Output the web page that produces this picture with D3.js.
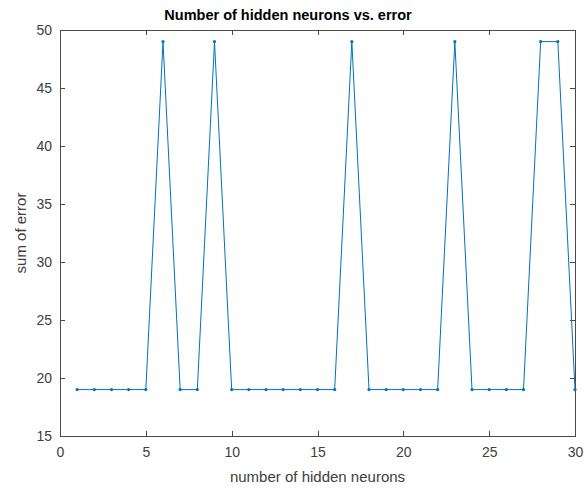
<!DOCTYPE html>
<html>
<head>
<meta charset="utf-8">
<script src="https://cdn.jsdelivr.net/npm/d3@7"></script>
<style>
  html, body { margin: 0; padding: 0; background: #fff; }
  svg { display: block; }
  text { font-family: "Liberation Sans", Arial, sans-serif; }
</style>
</head>
<body>
<svg id="chart" width="585" height="490"></svg>
<script>
// Hidden-neuron count and the resulting sum of error
const neurons = [1,2,3,4,5,6,7,8,9,10,11,12,13,14,15,16,17,18,19,20,21,22,23,24,25,26,27,28,29,30];
const errorSum = [19,19,19,19,19,49,19,19,49,19,19,19,19,19,19,19,49,19,19,19,19,19,49,19,19,19,19,49,49,19];
const xTicks = [0,5,10,15,20,25,30];
const yTicks = [15,20,25,30,35,40,45,50];

const svg = d3.select("#chart");
const m = { left: 60, right: 10, top: 30, bottom: 54 };
const W = 585, H = 490;
const x = d3.scaleLinear().domain([0, 30]).range([m.left, W - m.right]);
const y = d3.scaleLinear().domain([15, 50]).range([H - m.bottom, m.top]);
const axisColor = "#4a4a4a";
const tickLen = 5;

// box frame
svg.append("rect")
  .attr("x", x(0)).attr("y", y(50))
  .attr("width", x(30) - x(0)).attr("height", y(15) - y(50))
  .attr("fill", "none").attr("stroke", axisColor).attr("stroke-width", 1)
  .attr("shape-rendering", "crispEdges");

// inward ticks on all four sides
function styleAxis(g) {
  g.select(".domain").remove();
  g.selectAll(".tick line").attr("stroke", axisColor).attr("shape-rendering", "crispEdges");
  g.selectAll(".tick text").attr("fill", "#404040").attr("font-size", 14);
}
svg.append("g").attr("transform", `translate(0,${y(15)})`)
  .call(d3.axisBottom(x).tickValues(xTicks).tickSize(-tickLen).tickPadding(11).tickFormat(d3.format("d")))
  .call(styleAxis);
svg.append("g").attr("transform", `translate(0,${y(50)})`)
  .call(d3.axisTop(x).tickValues(xTicks).tickSize(-tickLen).tickFormat(""))
  .call(styleAxis);
svg.append("g").attr("transform", `translate(${x(0)},0)`)
  .call(d3.axisLeft(y).tickValues(yTicks).tickSize(-tickLen).tickPadding(8).tickFormat(d3.format("d")))
  .call(styleAxis);
svg.append("g").attr("transform", `translate(${x(30)},0)`)
  .call(d3.axisRight(y).tickValues(yTicks).tickSize(-tickLen).tickFormat(""))
  .call(styleAxis);

// data line with point markers
const pts = neurons.map((n, i) => [n, errorSum[i]]);
svg.append("path")
  .datum(pts)
  .attr("fill", "none")
  .attr("stroke", "#0072BD")
  .attr("stroke-width", 1)
  .attr("d", d3.line().x(d => x(d[0])).y(d => y(d[1])));
svg.append("g").selectAll("circle").data(pts).join("circle")
  .attr("cx", d => x(d[0])).attr("cy", d => y(d[1]))
  .attr("r", 1.6).attr("fill", "#0072BD");

// labels
svg.append("text")
  .attr("x", 288).attr("y", 20)
  .attr("text-anchor", "middle").attr("font-size", 14.5).attr("font-weight", "bold")
  .attr("fill", "#000").text("Number of hidden neurons vs. error");
svg.append("text")
  .attr("x", (x(0) + x(30)) / 2).attr("y", 482)
  .attr("text-anchor", "middle").attr("font-size", 15)
  .attr("fill", "#404040").text("number of hidden neurons");
svg.append("text")
  .attr("transform", `translate(26,${(y(15) + y(50)) / 2}) rotate(-90)`)
  .attr("text-anchor", "middle").attr("font-size", 15)
  .attr("fill", "#404040").text("sum of error");
</script>
</body>
</html>
